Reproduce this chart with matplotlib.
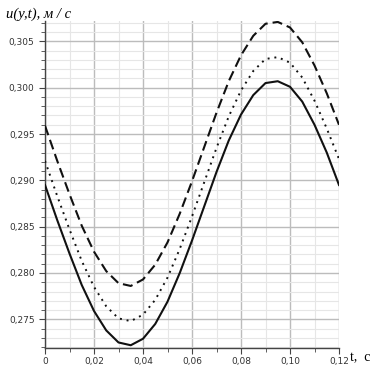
import numpy as np
import matplotlib.pyplot as plt
from matplotlib.ticker import MultipleLocator, FuncFormatter

# time, s
t = np.arange(25) * 0.005

u_solid = [0.2895, 0.2857, 0.2821, 0.2787, 0.2759, 0.2738, 0.2725, 0.2722, 0.2729,
           0.2745, 0.2769, 0.2800, 0.2835, 0.2872, 0.2909, 0.2943, 0.2971, 0.2992,
           0.3005, 0.3007, 0.3001, 0.2985, 0.2960, 0.2930, 0.2895]
u_dotted = [0.2921, 0.2883, 0.2847, 0.2813, 0.2785, 0.2764, 0.2751, 0.2748, 0.2755,
            0.2771, 0.2795, 0.2826, 0.2861, 0.2898, 0.2935, 0.2969, 0.2997, 0.3018,
            0.3031, 0.3033, 0.3027, 0.3011, 0.2986, 0.2956, 0.2923]
u_dashed = [0.2959, 0.2921, 0.2885, 0.2851, 0.2823, 0.2802, 0.2789, 0.2786, 0.2793,
            0.2809, 0.2833, 0.2864, 0.2899, 0.2936, 0.2973, 0.3007, 0.3035, 0.3056,
            0.3069, 0.3071, 0.3065, 0.3049, 0.3024, 0.2994, 0.2960]

fig = plt.figure(figsize=(3.8, 3.71), dpi=100)
ax = fig.add_axes([45 / 380, 1 - 348.3 / 371, 294 / 380, (348.3 - 21) / 371])

line_col = '#111111'
ax.plot(t, u_dashed, color=line_col, lw=1.5, dashes=(4.8, 2.4), zorder=3)
ax.plot(t, u_dotted, color=line_col, lw=1.4, dashes=(1.0, 2.5), zorder=3)
ax.plot(t, u_solid, color=line_col, lw=1.5, zorder=3)

ax.set_xlim(0, 0.12)
ax.set_ylim(0.27187, 0.3072)

ax.xaxis.set_major_locator(MultipleLocator(0.02))
ax.xaxis.set_minor_locator(MultipleLocator(0.01))
ax.yaxis.set_major_locator(MultipleLocator(0.005))
ax.yaxis.set_minor_locator(MultipleLocator(0.001))

ax.xaxis.set_major_formatter(FuncFormatter(lambda v, p: '0' if abs(v) < 1e-9 else f'{v:.2f}'.replace('.', ',')))
ax.yaxis.set_major_formatter(FuncFormatter(lambda v, p: f'{v:.3f}'.replace('.', ',')))

ax.grid(which='major', color='#bcbcbc', lw=1.0)
ax.grid(which='minor', color='#e6e6e6', lw=0.8)
ax.set_axisbelow(True)

for s in ['top', 'right']:
    ax.spines[s].set_visible(False)
for s in ['left', 'bottom']:
    ax.spines[s].set_color('#444444')
    ax.spines[s].set_linewidth(1.0)

ax.tick_params(which='both', direction='out', colors='#444444', labelcolor='#333333',
               labelsize=6.5)
ax.tick_params(which='major', length=4)
ax.tick_params(which='minor', length=3)
ax.tick_params(axis='x', which='both', pad=2)

fig.text(6 / 380, 1 - 14 / 371, 'u(y,t), м / с', family='Liberation Serif', style='italic',
         fontsize=10.5, va='center', ha='left')
fig.text(350 / 380, 1 - 358 / 371, 't,  с', family='Liberation Serif',
         fontsize=10, va='center', ha='left')

fig.savefig('out.png', dpi=100)
